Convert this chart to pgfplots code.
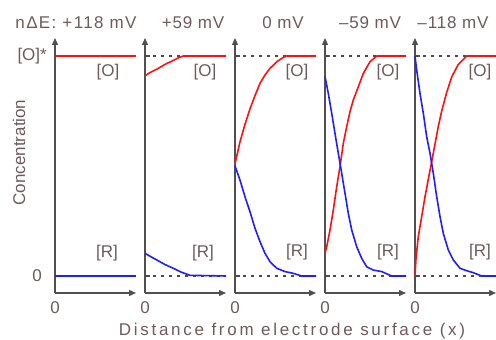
\documentclass[border=0pt]{standalone}
\usepackage{pgfplots}
\pgfplotsset{compat=1.18}
\usepackage{fontspec}
\setmainfont{Liberation Sans}
\newfontfamily\spaced[LetterSpace=16]{Liberation Sans}
\newfontfamily\lspaced[LetterSpace=5]{Liberation Sans}
\newfontfamily\tspaced[LetterSpace=8]{Liberation Sans}
\usetikzlibrary{arrows.meta}
\definecolor{txtc}{HTML}{6E5A5A}
\definecolor{axc}{HTML}{505050}
\definecolor{rc}{HTML}{FF1010}
\definecolor{bc}{HTML}{1E1EFF}
\definecolor{dotc}{HTML}{554545}
\pgfplotsset{panel/.style={
  scale only axis, width=81pt, height=255pt,
  xmin=0, xmax=81, ymin=-0.0773, ymax=1.082,
  axis lines=left,
  axis line style={axc, line width=1.3pt, -{Triangle[length=7pt,width=6pt]}},
  xtick=\empty, ytick={0,1}, yticklabels={,,},
  tick align=inside, major tick length=5pt,
  every tick/.style={axc, line width=1.3pt},
  clip=false, anchor=south west,
},
curve/.style={line width=1.6pt, line join=round},
dotl/.style={dotc, dash pattern=on 3pt off 5pt, line width=1.1pt}}
\tikzset{lab/.style={font=\fontsize{17}{20}\selectfont, text=txtc, inner sep=0pt}}
\begin{document}
\begin{tikzpicture}
% Panel 1: +118 mV
\begin{axis}[panel, at={(55pt,47pt)}]
\addplot[rc, curve] coordinates {(0,1)(81,1)};
\addplot[bc, curve] coordinates {(0,0)(81,0)};
\node[lab] at (axis cs:53,0.927) {[O]};
\node[lab] at (axis cs:52,0.105) {[R]};
\node[lab, anchor=east] at (axis cs:-8,1) {[O]*};
\node[lab, anchor=east] at (axis cs:-13,0) {0};
\node[lab, anchor=north, yshift=-8pt] at (axis cs:0,-0.0773) {0};
\end{axis}
% Panel 2: +59 mV
\begin{axis}[panel, at={(145pt,47pt)}]
\addplot[dotl] coordinates {(0,1)(81,1)};
\addplot[dotl] coordinates {(0,0)(81,0)};
\addplot[rc, curve] coordinates {(0,0.91)(5,0.925)(11.7,0.94)(20,0.962)(28.3,0.98)(34,0.993)(38.3,1)(81,1)};
\addplot[bc, curve] coordinates {(0,0.103)(5,0.09)(11.7,0.073)(20,0.052)(28.3,0.035)(36,0.018)(45,0.003)(81,0)};
\node[lab] at (axis cs:60,0.927) {[O]};
\node[lab] at (axis cs:58,0.105) {[R]};
\node[lab, anchor=north, yshift=-8pt] at (axis cs:0,-0.0773) {0};
\end{axis}
% Panel 3: 0 mV
\begin{axis}[panel, at={(235pt,47pt)}]
\addplot[dotl] coordinates {(0,1)(81,1)};
\addplot[dotl] coordinates {(0,0)(81,0)};
\addplot[rc, curve] coordinates {(0,0.51)(5,0.61)(10,0.69)(15,0.76)(20,0.82)(25,0.876)(30,0.914)(35,0.944)(41.7,0.974)(48.3,0.994)(51.7,1)(81,1)};
\addplot[bc, curve] coordinates {(0,0.5)(5,0.436)(10,0.36)(15,0.292)(20,0.217)(25,0.156)(30,0.103)(35,0.065)(41.7,0.035)(50,0.02)(58.3,0.012)(66.7,0)(81,0)};
\node[lab] at (axis cs:62,0.927) {[O]};
\node[lab] at (axis cs:62,0.108) {[R]};
\node[lab, anchor=north, yshift=-8pt] at (axis cs:0,-0.0773) {0};
\end{axis}
% Panel 4: -59 mV
\begin{axis}[panel, at={(325pt,47pt)}]
\addplot[dotl] coordinates {(0,1)(81,1)};
\addplot[dotl] coordinates {(0,0)(81,0)};
\addplot[rc, curve] coordinates {(0,0.103)(1.7,0.133)(5,0.209)(8.3,0.3)(11.7,0.406)(15,0.497)(18.3,0.603)(21.7,0.679)(25,0.747)(28.3,0.8)(33.3,0.86)(38.3,0.921)(45,0.974)(51.7,1)(81,1)};
\addplot[bc, curve] coordinates {(0,0.906)(3.3,0.83)(6.7,0.74)(10,0.648)(13.3,0.558)(16.7,0.467)(20,0.376)(23.3,0.285)(26.7,0.209)(31.7,0.133)(36.7,0.08)(41.7,0.042)(48.3,0.027)(56.7,0.02)(66.7,0)(81,0)};
\node[lab] at (axis cs:63,0.927) {[O]};
\node[lab] at (axis cs:63,0.108) {[R]};
\node[lab, anchor=north, yshift=-8pt] at (axis cs:0,-0.0773) {0};
\end{axis}
% Panel 5: -118 mV
\begin{axis}[panel, at={(415pt,47pt)}]
\addplot[dotl] coordinates {(0,1)(81,1)};
\addplot[dotl] coordinates {(0,0)(81,0)};
\addplot[rc, curve] coordinates {(0,0)(1,0.08)(3.3,0.18)(6.7,0.27)(10,0.36)(13.3,0.44)(16.7,0.52)(20,0.6)(23.3,0.68)(26.7,0.75)(31.7,0.835)(36.7,0.905)(43.3,0.962)(51.7,1)(81,1)};
\addplot[bc, curve] coordinates {(0,1)(1.7,0.936)(5,0.83)(8.3,0.74)(11.7,0.633)(15,0.558)(18.3,0.467)(21.7,0.36)(25,0.27)(28.3,0.194)(33.3,0.118)(38.3,0.073)(45,0.035)(51.7,0.024)(58.3,0.015)(66.7,0)(81,0)};
\node[lab] at (axis cs:65,0.927) {[O]};
\node[lab] at (axis cs:65,0.108) {[R]};
\node[lab, anchor=north, yshift=-8pt] at (axis cs:0,-0.0773) {0};
\end{axis}
% titles and labels
\node[lab] at (76pt,317pt) {\tspaced nΔE: +118 mV};
\node[lab] at (193pt,317pt) {\lspaced +59 mV};
\node[lab] at (283pt,317pt) {\lspaced 0 mV};
\node[lab] at (370pt,317pt) {\lspaced –59 mV};
\node[lab] at (453pt,317pt) {\lspaced –118 mV};
\node[lab, rotate=90] at (19pt,187.5pt) {Concentration};
\node[lab] at (292pt,9pt) {\spaced Distance from electrode surface (x)};
\pgfresetboundingbox
\path[use as bounding box] (0,0) rectangle (496pt,340pt);
\end{tikzpicture}
\end{document}
